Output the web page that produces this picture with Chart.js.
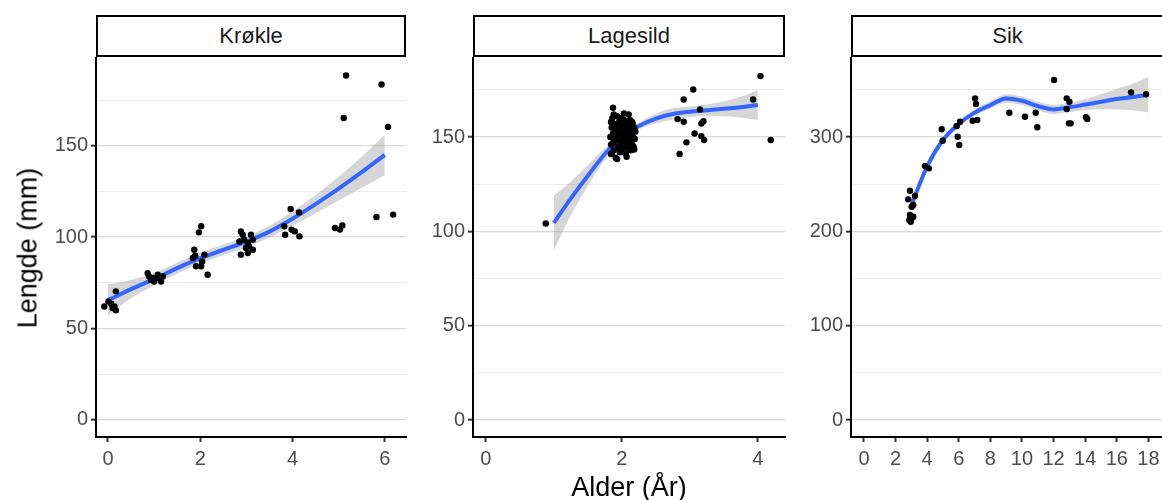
<!DOCTYPE html>
<html><head><meta charset="utf-8">
<script src="https://cdn.jsdelivr.net/npm/chart.js@4"></script>
<style>
body{margin:0;background:#fff;width:1162px;height:500px;overflow:hidden;position:relative;font-family:"Liberation Sans",Arial,sans-serif;}
.strip{position:absolute;top:15px;height:42px;box-sizing:border-box;border:2px solid #000;background:#fff;color:#1a1a1a;font-size:22px;display:flex;align-items:center;justify-content:center;}
canvas{position:absolute;top:38px;}
.ytitle{position:absolute;left:28px;top:248px;transform:translate(-50%,-50%) rotate(-90deg);font-size:27px;color:#000;white-space:nowrap;}
.xtitle{position:absolute;left:629px;top:487px;transform:translate(-50%,-50%);font-size:27px;color:#000;white-space:nowrap;}
</style></head>
<body>
<div class="strip" style="left:96px;width:310px">Krøkle</div>
<div class="strip" style="left:473px;width:312px">Lagesild</div>
<div class="strip" style="left:851px;width:313px">Sik</div>
<canvas id="c1" width="370" height="439" style="left:40px;width:370px;height:439px"></canvas>
<canvas id="c2" width="372" height="439" style="left:417px;width:372px;height:439px"></canvas>
<canvas id="c3" width="371" height="439" style="left:795px;width:371px;height:439px"></canvas>
<div class="ytitle">Lengde (mm)</div>
<div class="xtitle">Alder (År)</div>
<script>
// ---------- Krøkle ----------
const krokleAge = [-0.08,0.01,0.07,0.14,0.17,0.17,0.10,
  0.86,0.89,0.93,1.00,1.08,1.11,1.15,1.19,0.97,
  2.02,1.97,1.87,1.84,1.89,2.09,1.91,2.02,2.04,2.16,
  2.88,2.92,2.85,2.95,3.03,3.10,3.14,3.06,2.99,2.88,3.03,3.14,
  3.96,4.14,3.82,3.84,3.98,4.05,4.15,
  5.16,5.11,4.92,5.03,5.08,
  5.93,6.07,5.82,6.18];
const krokleLen = [62.0,64.8,63.5,62.0,70.3,59.9,61.2,
  80.3,78.5,76.7,75.7,79.4,77.6,75.7,78.5,77.6,
  105.9,102.6,93.1,88.6,89.8,90.4,84.0,84.0,86.7,79.4,
  103.1,101.3,97.6,98.6,96.8,101.3,98.6,94.9,94.0,90.4,91.3,93.1,
  115.4,113.5,105.9,101.3,104.1,103.1,100.4,
  188.4,165.2,105.0,104.1,106.4,
  183.5,160.3,111.0,112.3];
const krokleFitX = [0,0.5,1,1.5,2,2.5,3,3.5,4,4.5,5,5.5,6];
const krokleFit  = [65.5,71.5,77,83,88.5,93,97.5,103,110,118,126.5,135.5,145];
const krokleLo   = [57,66.5,73.5,80,85.5,90.2,94.5,99.8,106,113,120,127,134];
const krokleHi   = [74,76.5,80.5,86,91.5,95.8,100.5,106.2,114,123,133,144,156];
const krokleXTicks = [0,2,4,6];
const krokleYMajor = [0,50,100,150];
const krokleYMinor = [25,75,125,175];

// ---------- Lagesild ----------
const lagesildAge = [0.88,
  1.83,1.85,1.84,1.86,1.88,1.87,1.89,1.90,1.91,1.92,1.93,1.94,1.95,1.96,1.97,1.98,1.99,2.00,2.01,2.02,
  2.03,2.04,2.05,2.06,2.07,2.08,2.09,2.10,2.11,2.12,2.13,2.14,2.15,2.16,2.17,2.18,2.19,2.20,
  1.85,1.88,1.90,1.93,1.95,1.98,2.01,2.04,2.06,2.09,2.12,2.15,2.18,1.84,1.87,1.92,1.96,2.00,2.03,2.07,
  2.11,2.14,1.94,1.99,2.05,2.10,2.16,1.89,1.97,2.02,2.08,2.13,
  1.87,2.03,1.93,2.07,2.18,1.84,
  2.91,3.05,2.82,2.91,3.15,3.20,3.17,3.07,2.95,3.17,3.21,2.85,
  4.04,3.93,4.19];
const lagesildLen = [104.2,
  150,155,146,160,143,152,157,148,139,154,161,145,150,158,142,153,147,156,151,144,
  159,149,155,141,152,157,146,162,150,154,143,148,158,151,145,155,149,153,
  141,162,153,149,144,160,146,153,148,151,159,146,144,158,147,151,153,149,152,145,
  156,152,156,142,147,144,157,151,149,157,150,150,
  165.5,162.5,138.3,139.5,143.4,141,
  169.9,175.2,159.5,158.1,164.6,158.4,157.2,151.9,147.2,150.5,148.4,141.0,
  182.3,169.9,148.4];
const lagesildFitX = [1,1.25,1.5,1.75,2,2.25,2.5,2.75,3,3.25,3.5,3.75,4];
const lagesildFit  = [104.5,117.5,129.5,141,150,155.8,159.8,162.2,163.4,164.2,165,165.8,167];
const lagesildLo   = [90,108.5,124,138,148.5,154,157.3,159.2,160.6,161.2,161,160.3,159];
const lagesildHi   = [119,126.5,135,144,151.5,157.6,162.3,165.2,166.2,167.2,169,171.3,175];
const lagesildXTicks = [0,2,4];
const lagesildYMajor = [0,50,100,150];
const lagesildYMinor = [25,75,125,175];

// ---------- Sik ----------
const sikAge = [2.91,2.80,3.23,3.02,3.12,2.91,3.02,2.87,3.12,2.96,
  3.86,4.11,4.92,4.98,5.87,6.08,5.93,6.03,7.03,7.09,6.88,7.17,
  9.2,10.19,10.87,10.97,12.03,12.83,13.0,12.83,12.97,13.08,14.05,14.13,16.9,17.85];
const sikLen = [243.2,234,237.5,226.2,228,217.4,213.9,212.1,215.6,210.3,
  269.4,266.9,308.3,296.2,311.8,316.3,300.4,291.6,341.1,335.1,317.4,318.1,
  325.9,321.6,325.9,310.4,360.5,341.1,337.5,329.8,314.6,314.6,321,319.2,347.5,345.4];
const sikFitX = [3,4,5,6,7,8,9,10,11,12,13,14,15,16,17,18];
const sikFit  = [228,269,297,314,326,334,341,338.5,333,329.4,331.6,334.5,337.5,340.4,342.5,345];
const sikLo   = [223,265.5,294,311,323,330,336.5,334,328.5,324.4,326.6,328.5,329.5,329.4,328.5,326];
const sikHi   = [233,272.5,300,317,329,338,345.5,343,337.5,334.4,336.6,340.5,345.5,351.4,356.5,364];
const sikXTicks = [0,2,4,6,8,10,12,14,16,18];
const sikYMajor = [0,100,200,300];
const sikYMinor = [50,150,250,350];

Chart.defaults.font.family = '"Liberation Sans", Arial, sans-serif';

function pairs(xs, ys){ return xs.map((x,i)=>({x:x, y:ys[i]})); }

function makePanel(id, ages, lens, fx, fit, lo, hi, xmin, xmax, xticks, ymin, ymax, ymaj, ymin2, padRight){
  const yAll = ymaj.concat(ymin2).sort((a,b)=>a-b);
  // Chart.js paints dataset 0 last (on top): points, fit line, band upper, band lower
  new Chart(document.getElementById(id), {
    type: 'scatter',
    data: { datasets: [
      { type:'scatter', data: pairs(ages, lens), pointRadius:3.2, pointBackgroundColor:'#000', pointBorderWidth:0, pointBorderColor:'#000' },
      { type:'line', data: pairs(fx, fit), borderWidth:4, borderColor:'#3366FF', pointRadius:0, fill:false, cubicInterpolationMode:'monotone' },
      { type:'line', data: pairs(fx, hi), borderWidth:0, pointRadius:0, fill:3, backgroundColor:'rgba(153,153,153,0.4)', cubicInterpolationMode:'monotone', borderColor:'rgba(0,0,0,0)' },
      { type:'line', data: pairs(fx, lo), borderWidth:0, pointRadius:0, fill:false, cubicInterpolationMode:'monotone', borderColor:'rgba(0,0,0,0)' }
    ]},
    options: {
      responsive:false, animation:false,
      layout:{ padding:{ top:20, right:padRight, left:0, bottom:0 } },
      plugins:{ legend:{display:false}, tooltip:{enabled:false} },
      scales:{
        x:{ type:'linear', min:xmin, max:xmax,
          afterBuildTicks: s => { s.ticks = xticks.map(v=>({value:v})); },
          afterFit: s => { s.height = 40; },
          grid:{ drawOnChartArea:false, drawTicks:true, tickLength:5, tickColor:'#333', tickWidth:2 },
          border:{ display:true, color:'#000', width:2 },
          ticks:{ color:'#4d4d4d', font:{size:20}, padding:5, maxRotation:0, autoSkip:false }
        },
        y:{ type:'linear', min:ymin, max:ymax,
          afterBuildTicks: s => { s.ticks = yAll.map(v=>({value:v})); },
          afterFit: s => { s.width = 56; },
          grid:{ color: c => (c.tick && ymaj.includes(c.tick.value)) ? '#d9d9d9' : '#ededed',
                 lineWidth: c => (c.tick && ymaj.includes(c.tick.value)) ? 1.3 : 1,
                 tickColor: c => (c.tick && ymaj.includes(c.tick.value)) ? '#333' : 'rgba(0,0,0,0)',
                 tickLength:5, tickWidth:2 },
          border:{ display:true, color:'#000', width:2 },
          ticks:{ color:'#4d4d4d', font:{size:20}, padding:3, autoSkip:false,
                  callback: v => ymaj.includes(v) ? String(v) : '' }
        }
      }
    }
  });
}

makePanel('c1', krokleAge, krokleLen, krokleFitX, krokleFit, krokleLo, krokleHi,
  -0.26, 6.46, krokleXTicks, -9.4, 198, krokleYMajor, krokleYMinor, 4);
makePanel('c2', lagesildAge, lagesildLen, lagesildFitX, lagesildFit, lagesildLo, lagesildHi,
  -0.19, 4.40, lagesildXTicks, -9.0, 191.9, lagesildYMajor, lagesildYMinor, 4);
makePanel('c3', sikAge, sikLen, sikFitX, sikFit, sikLo, sikHi,
  -0.82, 18.86, sikXTicks, -18, 383.9, sikYMajor, sikYMinor, 4);
</script>
</body></html>
